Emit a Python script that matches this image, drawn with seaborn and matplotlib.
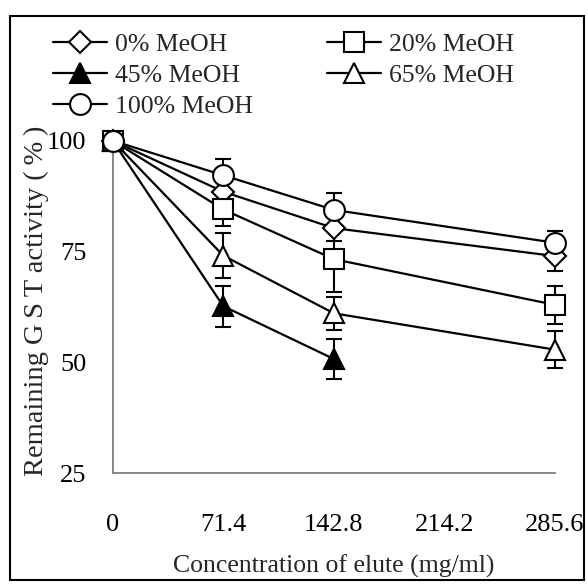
import matplotlib
matplotlib.use("Agg")
import matplotlib.pyplot as plt
import seaborn as sns
import pandas as pd
import numpy as np
from matplotlib.patches import Rectangle

# ---- data ----
x_ticks = [0, 71.4, 142.8, 214.2, 285.6]
x_tick_labels = ["0", "71.4", "142.8", "214.2", "285.6"]
y_ticks = [25, 50, 75, 100]

conc_full = [0, 71.4, 142.8, 285.6]
conc_45 = [0, 71.4, 142.8]

meoh0 = [100, 88.5, 80.3, 74.0]
meoh0_err = [0, 3.0, 3.0, 3.4]
meoh20 = [100, 84.5, 73.3, 63.0]
meoh20_err = [0, 3.75, 7.3, 4.2]
meoh45 = [100, 62.7, 50.8]
meoh45_err = [0, 4.6, 4.5]
meoh65 = [100, 74.1, 61.1, 52.9]
meoh65_err = [0, 5.1, 3.75, 4.1]
meoh100 = [100, 92.2, 84.4, 77.0]
meoh100_err = [0, 3.75, 3.75, 2.6]

series_labels = ["0% MeOH", "20% MeOH", "45% MeOH", "65% MeOH", "100% MeOH"]
xlabel = "Concentration of elute (mg/ml)"
ylabel = "Remaining G\u2009S\u2009T activity (\u2009%\u2009)"

series = [
    (series_labels[0], conc_full, meoh0, meoh0_err, "D", "white", 11),
    (series_labels[1], conc_full, meoh20, meoh20_err, "s", "white", 14),
    (series_labels[2], conc_45, meoh45, meoh45_err, "^", "black", 15),
    (series_labels[3], conc_full, meoh65, meoh65_err, "^", "white", 15),
    (series_labels[4], conc_full, meoh100, meoh100_err, "o", "white", 15),
]

sns.set_style("white")
plt.rcParams["font.family"] = ["Liberation Serif", "DejaVu Serif"]

fig = plt.figure(figsize=(5.88, 5.87), dpi=100)
ax = fig.add_axes([0.1917, 0.1934, 0.7522, 0.5669])

handles = {}
for label, xs, ys, errs, mk, fc, ms in series:
    df = pd.DataFrame({"x": xs, "y": ys})
    ax.errorbar(xs, ys, yerr=errs, fmt="none", ecolor="black", elinewidth=1.5,
                capsize=6, capthick=1.5, clip_on=False, zorder=2)
    sns.lineplot(data=df, x="x", y="y", ax=ax, color="black", linewidth=1.6,
                 marker=mk, markersize=ms, markerfacecolor=fc,
                 markeredgecolor="black", markeredgewidth=1.5,
                 clip_on=False, zorder=3, label=label, legend=False)
    handles[label] = ax.lines[-1]

ax.set_xlim(0, 285.6)
ax.set_ylim(25, 100)
ax.set_xticks(x_ticks)
ax.set_xticklabels(x_tick_labels)
ax.set_yticks(y_ticks)

for s in ["top", "right"]:
    ax.spines[s].set_visible(False)
for s in ["left", "bottom"]:
    ax.spines[s].set_color("#7f7f7f")
    ax.spines[s].set_linewidth(1.3)

ax.tick_params(axis="both", direction="in", length=4, width=1.0, color="#7f7f7f",
               labelsize=19, labelcolor="black")
ax.tick_params(axis="x", pad=29)
ax.tick_params(axis="y", pad=19)

ax.set_xlabel(xlabel, fontsize=18.5)
ax.set_ylabel(ylabel, fontsize=20.5)
ax.xaxis.set_label_coords(0.5, -0.278)
ax.xaxis.label.set_va("center")
ax.yaxis.set_label_coords(-0.172, 0.52)
ax.yaxis.label.set_va("center")

order = [series_labels[0], series_labels[2], series_labels[4], series_labels[1], series_labels[3]]
fig.legend([handles[l] for l in order], order, loc="upper left",
           bbox_to_anchor=(0.090, 0.943), ncol=2, frameon=False, fontsize=18.5,
           borderpad=0, handlelength=2.1, handletextpad=0.3, columnspacing=2.9,
           labelspacing=0.3, borderaxespad=0)

fig.patches.append(Rectangle((0.017, 0.012), 0.976, 0.961, transform=fig.transFigure,
                             fill=False, edgecolor="black", linewidth=1.5))

fig.savefig("out.png", dpi=100)
